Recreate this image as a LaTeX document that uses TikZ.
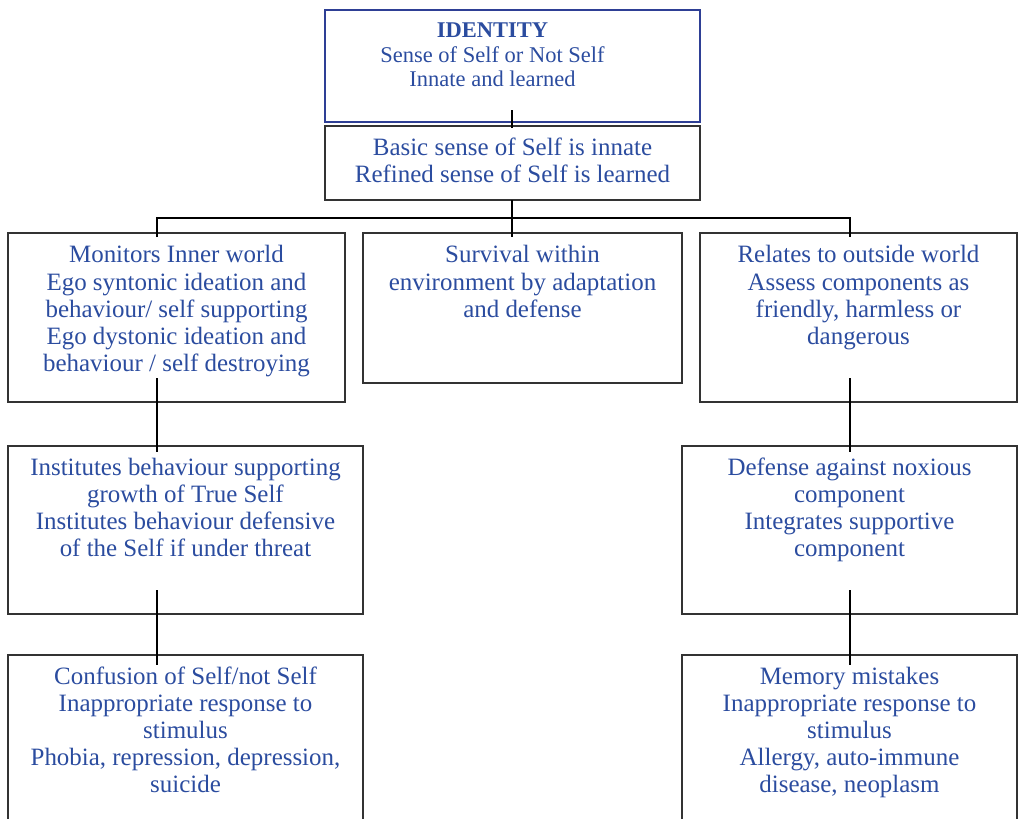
\documentclass[tikz,border=0pt]{standalone}
\usepackage{fontspec}
\setmainfont{Liberation Serif}
\definecolor{idblue}{HTML}{2E3F95}
\definecolor{txblue}{HTML}{2B4C9F}
\definecolor{boxgray}{HTML}{333333}
\usetikzlibrary{positioning, fit}

\begin{document}
\begin{tikzpicture}[
  x=0.02cm, y=-0.02cm,
  box/.style={draw=boxgray, line width=0.8pt, inner sep=0pt},
  txt/.style={text=txblue, align=center, inner sep=0pt, anchor=north,
              font=\fontsize{14.2}{15.4}\selectfont},
  link/.style={black, line width=0.8pt},
]
  \useasboundingbox (0,0) rectangle (1019,819);
  \clip (0,0) rectangle (1019,819);

  % boxes
  \node[box, draw=idblue, line width=1.3pt, fit={(325,10) (700,122)}] (id) {};
  \node[box, fit={(325,126) (700,200)}] (basic) {};
  \node[box, fit={(8,233) (345,402)}] (inner) {};
  \node[box, fit={(363,233) (682,383)}] (surv) {};
  \node[box, fit={(700,233) (1017,402)}] (outer) {};
  \node[box, fit={(8,446) (363,614)}] (inst) {};
  \node[box, fit={(682,446) (1017,614)}] (defn) {};
  \node[box, fit={(8,655) (363,840)}] (conf) {};
  \node[box, fit={(682,655) (1017,840)}] (mem) {};

  % texts
  \node[txt, below=0.28cm of id.north, xshift=-0.4cm,
        font=\fontsize{12.8}{13.9}\selectfont] (idt)
    {\textbf{IDENTITY}\\Sense of Self or Not Self\\Innate and learned};
  \node[txt, below=0.25cm of basic.north] (basict)
    {Basic sense of Self is innate\\Refined sense of Self is learned};
  \node[txt, below=0.26cm of inner.north] (innert)
    {Monitors Inner world\\Ego syntonic ideation and\\behaviour/ self supporting\\
     Ego dystonic ideation and\\behaviour / self destroying};
  \node[txt, below=0.26cm of surv.north] (survt)
    {Survival within\\environment by adaptation\\and defense};
  \node[txt, below=0.26cm of outer.north] (outert)
    {Relates to outside world\\Assess components as\\friendly, harmless or\\dangerous};
  \node[txt, below=0.25cm of inst.north] (instt)
    {Institutes behaviour supporting\\growth of True Self\\
     Institutes behaviour defensive\\of the Self if under threat};
  \node[txt, below=0.25cm of defn.north] (defnt)
    {Defense against noxious\\component\\Integrates supportive\\component};
  \node[txt, below=0.25cm of conf.north] (conft)
    {Confusion of Self/not Self\\Inappropriate response to\\stimulus\\
     Phobia, repression, depression,\\suicide};
  \node[txt, below=0.25cm of mem.north] (memt)
    {Memory mistakes\\Inappropriate response to\\stimulus\\
     Allergy, auto-immune\\disease, neoplasm};

  % connector ends
  \coordinate (c1) at (512,110);
  \coordinate (c2) at (512,128);
  \coordinate (c3) at (512,200);
  \coordinate (c4) at (512,237);
  \coordinate (l1) at (157,237);
  \coordinate (r1) at (850,237);
  \coordinate (l2) at (157,378);
  \coordinate (l3) at (157,452);
  \coordinate (l4) at (157,590);
  \coordinate (l5) at (157,665);
  \coordinate (r2) at (850,378);
  \coordinate (r3) at (850,452);
  \coordinate (r4) at (850,590);
  \coordinate (r5) at (850,665);

  \draw[link] (c1) -- (c2);
  \draw[link] (c3) -- (c4);
  \draw[link] (l1) -- ++(0,-19) -| (r1);
  \draw[link] (l2) -- (l3);
  \draw[link] (l4) -- (l5);
  \draw[link] (r2) -- (r3);
  \draw[link] (r4) -- (r5);
\end{tikzpicture}
\end{document}
